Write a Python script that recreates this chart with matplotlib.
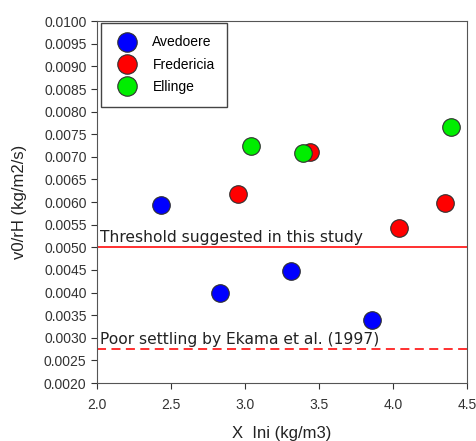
import matplotlib
matplotlib.use('Agg')
import matplotlib.pyplot as plt
from matplotlib.lines import Line2D

# data
aved_x = [2.43, 2.83, 3.31, 3.86]
aved_y = [0.00593, 0.00400, 0.00448, 0.00339]
fred_x = [2.95, 3.44, 4.04, 4.35]
fred_y = [0.00617, 0.00711, 0.00543, 0.00599]
ell_x = [3.04, 3.39, 4.39]
ell_y = [0.00725, 0.00709, 0.00766]
threshold = 0.0050
ekama = 0.00275

plt.rcParams['font.family'] = ['Liberation Sans', 'DejaVu Sans']

fig = plt.figure(figsize=(4.77, 4.41), dpi=100)
ax = fig.add_axes([0.2034, 0.1315, 0.7756, 0.8205])

ax.axhline(threshold, color='#ff2020', lw=1.3, zorder=1)
ax.axhline(ekama, color='#ff2020', lw=1.3, ls=(0, (5, 3)), zorder=1)
ax.text(2.02, threshold + 0.00005, 'Threshold suggested in this study',
        family='DejaVu Sans', fontsize=11.2, color='#222222', va='bottom')
ax.text(2.02, ekama + 0.00005, 'Poor settling by Ekama et al. (1997)',
        family='DejaVu Sans', fontsize=11.2, color='#222222', va='bottom')

kw = dict(s=160, edgecolors='#303030', linewidths=0.8, zorder=3)
ax.scatter(aved_x, aved_y, c='#0000ff', **kw)
ax.scatter(fred_x, fred_y, c='#ff0000', **kw)
ax.scatter(ell_x, ell_y, c='#00ee00', **kw)

ax.set_xlim(2.0, 4.5)
ax.set_ylim(0.0020, 0.0100)
ax.set_xticks([2.0, 2.5, 3.0, 3.5, 4.0, 4.5])
ax.set_yticks([0.0020 + 0.0005 * i for i in range(17)])
ax.set_yticklabels(['%.4f' % (0.0020 + 0.0005 * i) for i in range(17)])
ax.tick_params(direction='out', length=4, labelsize=10, colors='#333333')
ax.tick_params(axis='x', pad=7)
for s in ax.spines.values():
    s.set_color('#555555')

ax.set_xlabel('X  Ini (kg/m3)', fontsize=12, color='#222222', labelpad=10)
ax.set_ylabel('v0/rH (kg/m2/s)', fontsize=12, color='#222222', labelpad=12)

handles = [Line2D([], [], ls='none', marker='o', ms=14, mfc=c, mec='#303030', mew=0.8)
           for c in ['#0000ff', '#ff0000', '#00ee00']]
leg = ax.legend(handles, ['Avedoere', 'Fredericia', 'Ellinge'], loc='upper left',
                bbox_to_anchor=(4 / 370, 1 - 1.7 / 362), borderaxespad=0,
                fontsize=10, fancybox=False, edgecolor='#444444', framealpha=1,
                borderpad=0.9, labelspacing=0.6, handletextpad=0.8)
leg.get_frame().set_linewidth(1.0)

plt.savefig('out.png', dpi=100)
